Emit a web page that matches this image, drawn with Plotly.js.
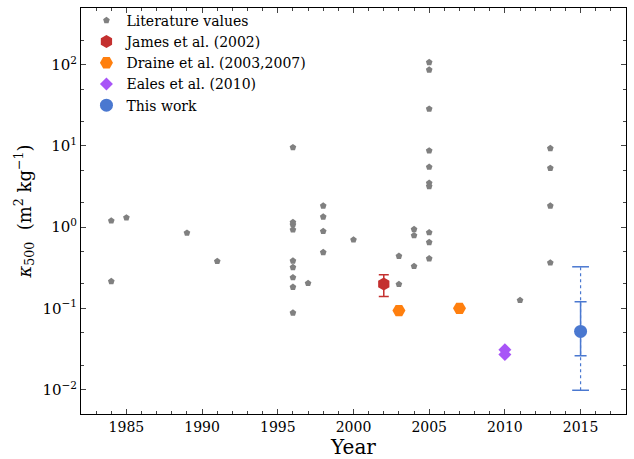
<!DOCTYPE html>
<html>
<head>
<meta charset="utf-8">
<script src="https://cdn.plot.ly/plotly-3.0.1.min.js"></script>
<style>html,body{margin:0;padding:0;background:#fff;}#chart{width:634px;height:459px;}</style>
</head>
<body>
<div id="chart"></div>
<script>
// Literature values
const litYears = [1984, 1984, 1985, 1989, 1991,
  1996, 1996, 1996, 1996, 1996, 1996, 1996, 1996, 1996,
  1997, 1998, 1998, 1998, 1998, 2000, 2003, 2003,
  2004, 2004, 2004,
  2005, 2005, 2005, 2005, 2005, 2005, 2005, 2005, 2005, 2005,
  2011, 2013, 2013, 2013, 2013];
const litValues = [1.20, 0.215, 1.31, 0.85, 0.38,
  9.6, 1.15, 1.07, 0.93, 0.385, 0.32, 0.24, 0.183, 0.088,
  0.204, 1.83, 1.34, 0.89, 0.49, 0.70, 0.44, 0.198,
  0.94, 0.79, 0.33,
  107, 86.5, 28.6, 8.75, 5.5, 3.5, 3.18, 0.86, 0.65, 0.41,
  0.126, 9.35, 5.33, 1.83, 0.364];

// James et al. (2002)
const jamesYear = [2002];
const jamesValue = [0.20];
const jamesErrPlus = [0.06];
const jamesErrMinus = [0.06];

// Draine et al. (2003, 2007)
const draineYears = [2003, 2007];
const draineValues = [0.094, 0.10];

// Eales et al. (2010)
const ealesYears = [2010, 2010];
const ealesValues = [0.031, 0.027];

// This work
const thisYear = [2015];
const thisValue = [0.052];
const thisErrPlus = [0.069];
const thisErrMinus = [0.026];
const thisOuterYears = [2015, 2015];
const thisOuterRange = [0.0098, 0.325];

const yTickVals = [0.01, 0.1, 1, 10, 100];
const yTickText = ['10<sup>−2</sup>', '10<sup>−1</sup>', '10<sup>0</sup>', '10<sup>1</sup>', '10<sup>2</sup>'];
const xTickVals = [1985, 1990, 1995, 2000, 2005, 2010, 2015];

const serif = "'DejaVu Serif', 'Liberation Serif', serif";
const blue = '#4a78d0';

const traces = [
  {x: litYears, y: litValues, mode: 'markers', type: 'scatter', name: 'Literature values',
   marker: {symbol: 'pentagon', size: 7, color: '#808080'}},
  {x: jamesYear, y: jamesValue, mode: 'markers', type: 'scatter', name: 'James et al. (2002)',
   marker: {symbol: 'hexagon', size: 13, color: '#c4302f'},
   error_y: {type: 'data', symmetric: false, array: jamesErrPlus, arrayminus: jamesErrMinus,
             color: '#c4302f', thickness: 1.5, width: 5}},
  {x: draineYears, y: draineValues, mode: 'markers', type: 'scatter', name: 'Draine et al. (2003,2007)',
   marker: {symbol: 'hexagon2', size: 13, color: '#ff7f0e'}},
  {x: ealesYears, y: ealesValues, mode: 'markers', type: 'scatter', name: 'Eales et al. (2010)',
   marker: {symbol: 'diamond', size: 10, color: '#a855f7'}},
  {x: thisOuterYears, y: thisOuterRange, mode: 'lines+markers', type: 'scatter', showlegend: false,
   line: {color: blue, width: 1.2, dash: 'dot'},
   marker: {symbol: 'line-ew', size: 12, line: {color: blue, width: 1.5}}},
  {x: thisYear, y: thisValue, mode: 'markers', type: 'scatter', name: 'This work',
   marker: {symbol: 'circle', size: 13, color: blue},
   error_y: {type: 'data', symmetric: false, array: thisErrPlus, arrayminus: thisErrMinus,
             color: blue, thickness: 1.5, width: 6}}
];

const layout = {
  width: 634, height: 459,
  margin: {l: 81, r: 8, t: 5, b: 45},
  paper_bgcolor: '#fff', plot_bgcolor: '#fff',
  font: {family: serif, color: '#000', size: 14},
  showlegend: true,
  legend: {x: 0.01, y: 1.008, xanchor: 'left', yanchor: 'top', bgcolor: 'rgba(0,0,0,0)',
           font: {family: serif, size: 14}, tracegroupgap: 0, itemsizing: 'trace'},
  xaxis: {range: [1982, 2018], tickvals: xTickVals, ticks: 'inside', ticklen: 5, tickwidth: 1,
          showline: true, linecolor: '#000', linewidth: 1, mirror: 'allticks', showgrid: false,
          zeroline: false, tickfont: {family: serif, size: 14},
          minor: {ticks: 'inside', ticklen: 3, dtick: 1, tick0: 1982, showgrid: false},
          title: {text: 'Year', font: {family: serif, size: 20}, standoff: 6}},
  yaxis: {type: 'log', range: [Math.log10(0.005), Math.log10(500)], tickvals: yTickVals, ticktext: yTickText,
          ticks: 'inside', ticklen: 5, tickwidth: 1, showline: true, linecolor: '#000', linewidth: 1,
          mirror: 'allticks', showgrid: false, zeroline: false, tickfont: {family: serif, size: 15},
          minor: {ticks: 'inside', ticklen: 3, showgrid: false},
          title: {text: '<i>κ</i><sub>500</sub>  (m<sup>2</sup> kg<sup>−1</sup>)', font: {family: serif, size: 18}, standoff: 6}}
};

Plotly.newPlot('chart', traces, layout, {displayModeBar: false, staticPlot: true});
</script>
</body>
</html>
